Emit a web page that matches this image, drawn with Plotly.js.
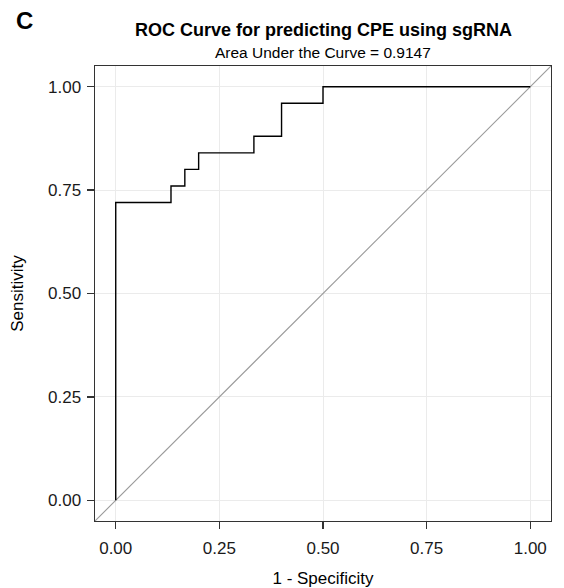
<!DOCTYPE html>
<html>
<head>
<meta charset="utf-8">
<script src="https://cdn.plot.ly/plotly-3.0.1.min.js"></script>
<style>html,body{margin:0;padding:0;background:#fff;}#chart{width:564px;height:588px;}</style>
</head>
<body>
<div id="chart"></div>
<script>
// ROC curve data (1 - specificity, sensitivity)
const fpr = [0, 0, 0.1333, 0.1667, 0.2, 0.3333, 0.4, 0.5, 1];
const tpr = [0, 0.72, 0.76, 0.80, 0.84, 0.88, 0.96, 1.0, 1.0];
const refLineX = [-0.05, 1.05];
const refLineY = [-0.05, 1.05];
const tickVals = [0, 0.25, 0.5, 0.75, 1];
const tickText = ["0.00", "0.25", "0.50", "0.75", "1.00"];
const titleText = "ROC Curve for predicting CPE using sgRNA";
const subtitleText = "Area Under the Curve = 0.9147";
const panelLabel = "C";

const font = "Liberation Sans, Arial, sans-serif";

const traces = [
  {x: refLineX, y: refLineY, mode: "lines", line: {color: "#9a9a9a", width: 1.1}, hoverinfo: "skip", showlegend: false},
  {x: fpr, y: tpr, mode: "lines", line: {color: "#000000", width: 1.4, shape: "hv"}, showlegend: false}
];

const axisCommon = {
  range: [-0.05, 1.05],
  tickvals: tickVals,
  ticktext: tickText,
  showgrid: true,
  gridcolor: "#ebebeb",
  gridwidth: 1,
  zeroline: false,
  showline: true,
  linecolor: "#333333",
  linewidth: 1.4,
  mirror: true,
  ticks: "outside",
  ticklen: 7,
  tickcolor: "#333333",
  tickwidth: 1.3,
  tickfont: {family: font, size: 17, color: "#1a1a1a"}
};

const layout = {
  width: 564, height: 588,
  margin: {l: 95, r: 13, t: 66, b: 67},
  paper_bgcolor: "#ffffff",
  plot_bgcolor: "#ffffff",
  xaxis: Object.assign({}, axisCommon, {
    ticklabelstandoff: 4,
    title: {text: "1 - Specificity", font: {family: font, size: 17, color: "#000"}, standoff: 15}
  }),
  yaxis: Object.assign({}, axisCommon, {
    ticklabelstandoff: 2,
    title: {text: "Sensitivity", font: {family: font, size: 17, color: "#000"}, standoff: 20}
  }),
  annotations: [
    {text: "<b>" + titleText + "</b>", xref: "paper", yref: "paper", x: 0.5, y: 1 + (66 - 30) / 455,
     xanchor: "center", yanchor: "middle", showarrow: false, font: {family: font, size: 18, color: "#000"}},
    {text: subtitleText, xref: "paper", yref: "paper", x: 0.5, y: 1 + (66 - 52) / 455,
     xanchor: "center", yanchor: "middle", showarrow: false, font: {family: font, size: 15.5, color: "#000"}},
    {text: "<b>" + panelLabel + "</b>", xref: "paper", yref: "paper", x: (24 - 95) / 456, y: 1 + (66 - 21) / 455,
     xanchor: "center", yanchor: "middle", showarrow: false, font: {family: font, size: 24, color: "#000"}}
  ]
};

Plotly.newPlot("chart", traces, layout, {displayModeBar: false, staticPlot: true});
</script>
</body>
</html>
